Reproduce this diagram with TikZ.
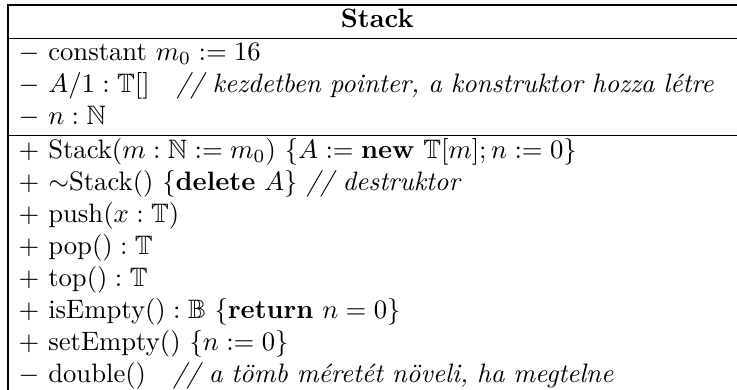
\documentclass[tikz,border=0pt]{standalone}
\usepackage{amsmath}
\usepackage{amssymb}
\usetikzlibrary{positioning}

\begin{document}
\begin{tikzpicture}[
    part/.style={draw, line width=0.4pt, outer sep=0pt, inner xsep=4pt,
                 inner ysep=0.2pt, text width=269pt, align=left},
    head/.style={part, align=center},
  ]
  \useasboundingbox (0,0) rectangle (276.4pt,-145.9pt);
  % class name
  \node[head, anchor=north west] (name) at (3pt,-1.875pt) {\strut\textbf{Stack}};
  % attributes
  \node[part, below=0pt of name] (attrs)
    {\strut$-$ constant $m_0 := 16$\\
     $-$ $A/1 : \mathbb{T}[]$\quad \textit{// kezdetben pointer, a konstruktor hozza létre}\\
     $-$ $n : \mathbb{N}$\strut};
  % operations
  \node[part, below=0pt of attrs] (ops)
    {\strut$+$ Stack$(m : \mathbb{N} := m_0)$ $\{A := \textbf{new}\ \mathbb{T}[m]; n := 0\}$\\
     $+$ $\sim$Stack() $\{$\textbf{delete} $A\}$ \textit{// destruktor}\\
     $+$ push$(x : \mathbb{T})$\\
     $+$ pop$() : \mathbb{T}$\\
     $+$ top$() : \mathbb{T}$\\
     $+$ isEmpty$() : \mathbb{B}$ $\{\textbf{return}\ n = 0\}$\\
     $+$ setEmpty$()$ $\{n := 0\}$\\
     $-$ double$()$\quad \textit{// a tömb méretét növeli, ha megtelne}\strut};
\end{tikzpicture}
\end{document}
